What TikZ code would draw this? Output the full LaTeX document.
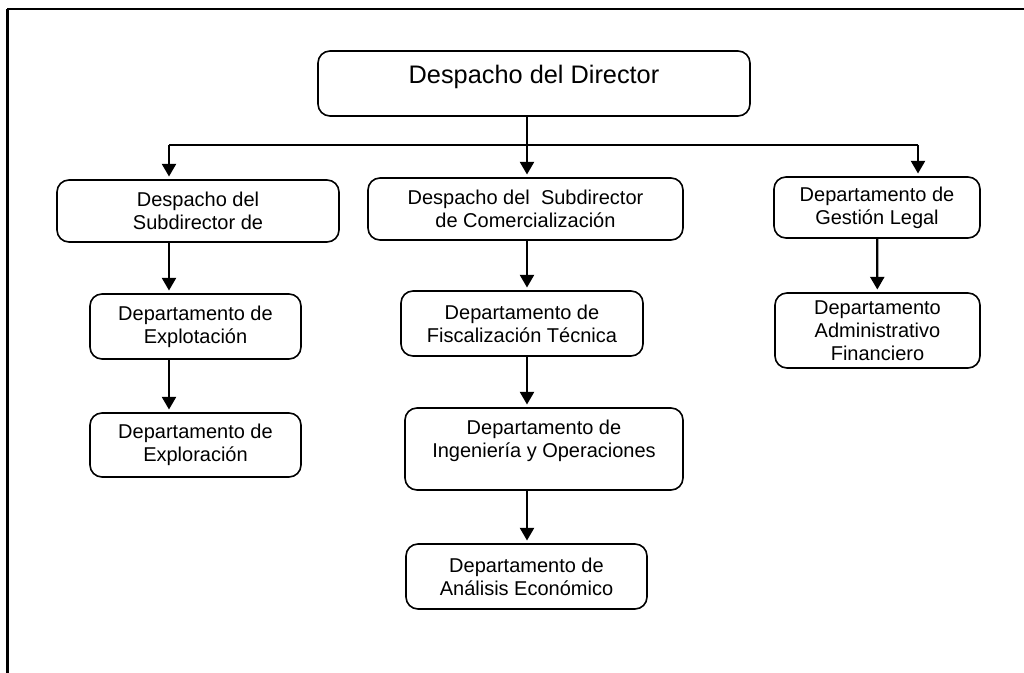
\documentclass[tikz,border=0pt]{standalone}
\usepackage{fontspec}
\setmainfont{Liberation Sans}
\usetikzlibrary{arrows.meta}

\begin{document}
\begin{tikzpicture}[x=0.75pt,y=-0.75pt,>={Triangle[width=10.5pt,length=9.5pt]},
    caja/.style={draw,line width=1.2pt,rounded corners=9pt,align=center,inner sep=2pt,
      font=\fontsize{15}{17.25}\selectfont},
    flecha/.style={->,line width=1.7pt,shorten >=2pt}]
  \useasboundingbox (0,0) rectangle (1024,673);
  \draw[line width=1.5pt] (7.5,673) -- (7.5,9.5) -- (1024,9.5);
  \draw[line width=2pt] (7.5,673) -- (7.5,9.5);

  % director y subdirecciones
  \node[caja,minimum width=324pt,minimum height=48.75pt,font=\fontsize{19}{23}\selectfont,
    text height=14pt,text depth=14pt] (dir) at (534,83.5) {Despacho del Director};
  \node[caja,minimum width=211.5pt,minimum height=46.5pt] (subA) at (198,211) {Despacho del\\Subdirector de};
  \node[caja,minimum width=236.25pt,minimum height=46.5pt] (subC) at (525.5,209) {Despacho del~ Subdirector\\de Comercialización};
  \node[caja,minimum width=154.5pt,minimum height=45.75pt] (legal) at (877,207.5) {Departamento de\\Gestión Legal};

  % departamentos
  \node[caja,minimum width=158.25pt,minimum height=48.75pt] (explt) at (195.5,326.5) {Departamento de\\Explotación};
  \node[caja,minimum width=158.25pt,minimum height=48pt] (explr) at (195.5,445) {Departamento de\\Exploración};
  \node[caja,minimum width=181.5pt,minimum height=48.75pt] (fisc) at (522,323.5) {Departamento de\\Fiscalización Técnica};
  \node[caja,minimum width=208.5pt,minimum height=61.5pt] (ingen) at (544,449) {Departamento de\\Ingeniería y Operaciones\\[-2pt]\mbox{}};
  \node[caja,minimum width=180.75pt,minimum height=48.75pt] (anal) at (526.5,576.5) {Departamento de\\Análisis Económico};
  \node[caja,minimum width=153.75pt,minimum height=56.25pt] (admin) at (877.5,330.5) {Departamento\\Administrativo\\Financiero};

  % conectores
  \coordinate (busL) at (169,145);
  \coordinate (bus) at (527,145);
  \coordinate (busR) at (918,145);
  \draw[line width=1.7pt] (dir.south -| bus) -- (bus);
  \draw[line width=1.1pt] (busL) -- (busR);
  \draw[flecha] (busL) -- (subA.north -| busL);
  \draw[flecha] (bus) -- (subC.north -| bus);
  \draw[flecha] (busR) -- (legal.north -| busR);
  \draw[flecha] (subA.south -| busL) -- (explt.north -| busL);
  \draw[flecha] (explt.south -| busL) -- (explr.north -| busL);
  \draw[flecha] (subC.south -| bus) -- (fisc.north -| bus);
  \draw[flecha] (fisc.south -| bus) -- (ingen.north -| bus);
  \draw[flecha] (ingen.south -| bus) -- (anal.north -| bus);
  \draw[flecha] (legal) -- (admin);
\end{tikzpicture}
\end{document}
